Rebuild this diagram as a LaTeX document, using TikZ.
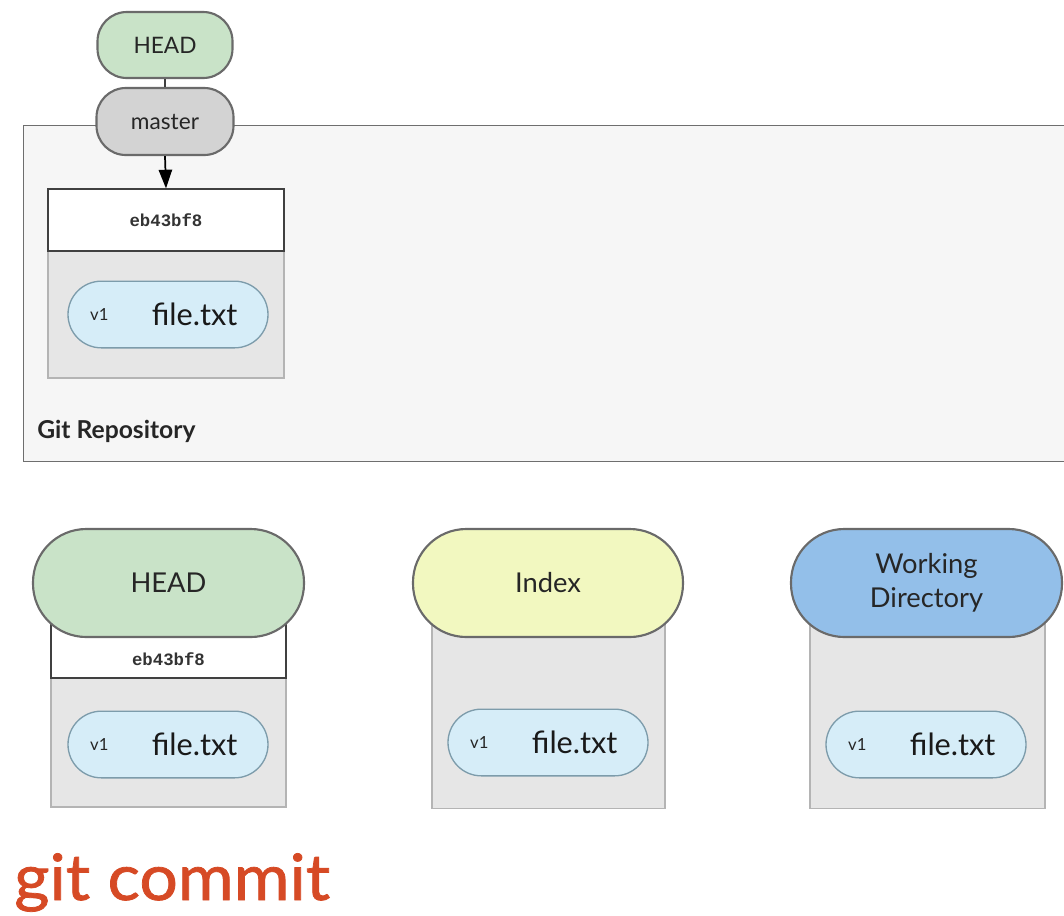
\documentclass[tikz,border=0pt]{standalone}
\usepackage{fontspec}
\setmainfont{Lato}
\newfontfamily\hashfont{Liberation Mono}
\newfontfamily\titlefont[FakeBold=1.2, FakeStretch=1.06]{Lato}
\usetikzlibrary{arrows.meta}
\definecolor{pillborder}{HTML}{6A6A6A}
\definecolor{headgreen}{HTML}{C9E3C8}
\definecolor{mastergray}{HTML}{D3D3D3}
\definecolor{indexyellow}{HTML}{F2F8C0}
\definecolor{wdblue}{HTML}{93BFE9}
\definecolor{fileblue}{HTML}{D6EDF8}
\definecolor{fileborder}{HTML}{7D9CAB}
\definecolor{bodygray}{HTML}{E6E6E6}
\definecolor{bodyborder}{HTML}{B4B4B4}
\definecolor{repofill}{HTML}{F6F6F6}
\definecolor{repoborder}{HTML}{6E6E6E}
\definecolor{gitred}{HTML}{D64A25}
\tikzset{
  pill/.style={draw=pillborder, line width=1.6pt, rounded corners=#1, inner sep=0pt, align=center, text=black!85},
  filepill/.style={draw=fileborder, fill=fileblue, line width=1pt, rounded corners=25pt, inner sep=0pt, minimum width=150pt, minimum height=50pt},
  bodybox/.style={draw=bodyborder, fill=bodygray, line width=0.9pt, inner sep=0pt},
  hashbox/.style={draw=black!75, fill=white, line width=0.9pt, inner sep=0pt},
  hashtext/.style={inner sep=0pt, font=\hashfont\bfseries\fontsize{13}{15}\selectfont, text=black!80},
  vlabel/.style={font=\fontsize{12.5}{14}\selectfont, text=black!85, inner sep=0pt},
  flabel/.style={font=\fontsize{23}{26}\selectfont, text=black!90, inner sep=0pt},
}
\begin{document}
\begin{tikzpicture}[x=0.75pt, y=-0.75pt]
\useasboundingbox (0,0) rectangle (1064,915);
\clip (0,0) rectangle (1064,915);

% Repository frame
\node[draw=repoborder, fill=repofill, line width=1.1pt, inner sep=0pt, minimum width=789.75pt, minimum height=252pt, anchor=north west] (repo) at (23,125) {};
\node[anchor=base west, inner sep=0pt, font=\bfseries\fontsize{18.5}{21}\selectfont, text=black!85] (repolabel) at (37,438) {Git Repository};

% commit in repository
\node[bodybox, minimum width=177pt, minimum height=95.25pt] (cbody) at (166,314.5) {};
\node[hashbox, minimum width=177pt, minimum height=46.5pt] (chash) at (166,220) {};
\node[hashtext] (chashtext) at (166,220) {eb43bf8};
\node[filepill] (cfile) at (168,314.5) {};
\node[vlabel] (cfilev) at ([xshift=24pt]cfile.west) {v1};
\node[flabel] (cfilet) at ([xshift=20pt]cfile.center) {file.txt};

% HEAD and master refs
\node[pill=22pt, fill=headgreen, minimum width=101.25pt, minimum height=49.5pt, font=\fontsize{17}{20}\selectfont] (headref) at (165,45) {HEAD};
\node[pill=22pt, fill=mastergray, minimum width=102.75pt, minimum height=50.25pt, font=\fontsize{17}{20}\selectfont] (master) at (165,121.5) {master};
\draw[line width=1.2pt, black!75] (headref.south) -- (master.north);
\draw[line width=1.3pt, -{Triangle[length=14pt,width=10pt]}] (master.south) -- (chash.north);

% Bottom: HEAD tree
\node[bodybox, minimum width=176.25pt, minimum height=96.75pt] (hbody) at (168.5,742.5) {};
\node[hashbox, minimum width=176.25pt, minimum height=51pt] (hhash) at (168.5,644) {};
\node[hashtext] (hhashtext) at (168.5,659) {eb43bf8};
\node[filepill] (hfile) at (168,744.5) {};
\node[vlabel] (hfilev) at ([xshift=24pt]hfile.west) {v1};
\node[flabel] (hfilet) at ([xshift=20pt]hfile.center) {file.txt};
\node[pill=40pt, fill=headgreen, minimum width=203.25pt, minimum height=81pt, font=\fontsize{20.5}{24}\selectfont] (headtree) at (168.5,583) {HEAD};

% Index
\node[bodybox, minimum width=174.75pt, minimum height=169pt] (ibody) at (548.5,695.5) {};
\node[filepill] (ifile) at (548,742.5) {};
\node[vlabel] (ifilev) at ([xshift=24pt]ifile.west) {v1};
\node[flabel] (ifilet) at ([xshift=20pt]ifile.center) {file.txt};
\node[pill=40pt, fill=indexyellow, minimum width=202.5pt, minimum height=81pt, font=\fontsize{20.5}{24}\selectfont] (index) at (548,583) {Index};

% Working Directory
\node[bodybox, minimum width=176.25pt, minimum height=169pt] (wbody) at (927.5,695.5) {};
\node[filepill] (wfile) at (926,744.5) {};
\node[vlabel] (wfilev) at ([xshift=24pt]wfile.west) {v1};
\node[flabel] (wfilet) at ([xshift=20pt]wfile.center) {file.txt};
\node[pill=40pt, fill=wdblue, minimum width=203.25pt, minimum height=81pt, font=\fontsize{20.5}{25.5}\selectfont] (wd) at (926.5,583) {Working\\Directory};

% Title
\node[anchor=base west, inner sep=0pt, text=gitred, font=\titlefont\fontsize{48}{52}\selectfont] (title) at (14,900) {git commit};
\end{tikzpicture}
\end{document}
